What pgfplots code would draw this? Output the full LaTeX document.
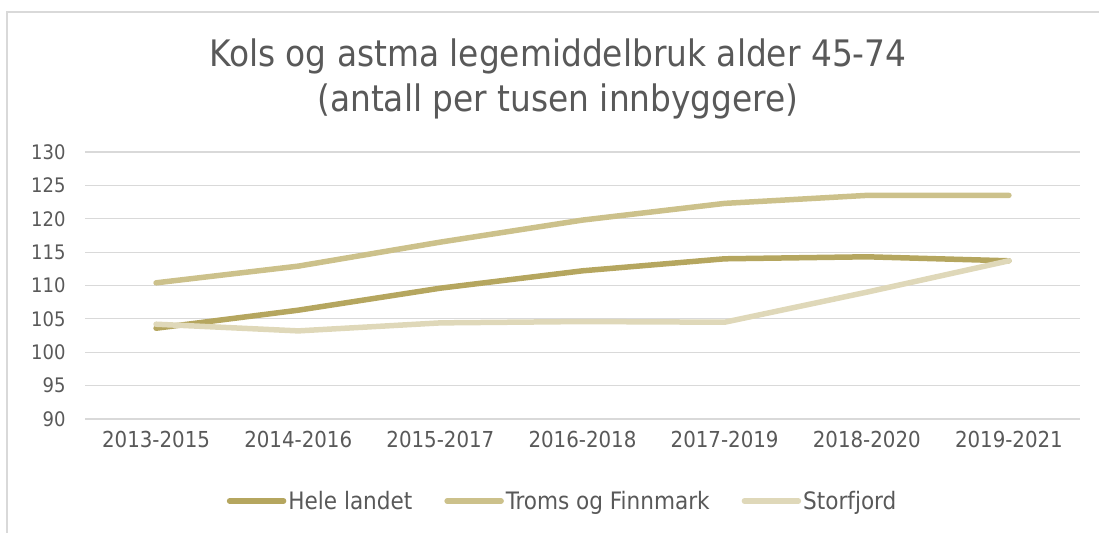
\documentclass[border=0pt]{standalone}
\usepackage{fontspec}
\setmainfont{DejaVu Sans Condensed}
\usepackage{pgfplots}
\pgfplotsset{compat=1.18}
\definecolor{hele}{HTML}{B5A65F}
\definecolor{troms}{HTML}{CCC18B}
\definecolor{storf}{HTML}{DFD8B9}
\definecolor{txt}{HTML}{595959}
\definecolor{grd}{HTML}{D9D9D9}
\begin{document}
\begin{tikzpicture}
\useasboundingbox (0,0) rectangle (1099bp,533bp);
\draw[grd, line width=1.2bp] (7bp,-20bp) -- (7bp,521bp) -- (1120bp,521bp);
\node[txt, font=\fontsize{36.5bp}{45bp}\selectfont, align=center] at (558bp,454bp) {Kols og astma legemiddelbruk alder 45-74\\(antall per tusen innbyggere)};
\begin{axis}[
  at={(85bp,114bp)}, anchor=south west,
  scale only axis, width=995bp, height=267bp,
  xmin=-0.5, xmax=6.5, ymin=90, ymax=130,
  xtick={0,...,6},
  xticklabels={2013-2015,2014-2016,2015-2017,2016-2018,2017-2019,2018-2020,2019-2021},
  ytick={90,95,...,130},
  ymajorgrids, grid style={grd, line width=1.2bp},
  axis line style={draw=none},
  major tick style={draw=none},
  tick label style={txt},
  yticklabel style={font=\fontsize{20bp}{24bp}\selectfont, xshift=-16bp},
  xticklabel style={font=\fontsize{22bp}{26bp}\selectfont, yshift=-9bp},
  /pgf/number format/assume math mode=true,
  legend columns=3,
  legend style={at={(0.48,-0.307)}, anchor=center, draw=none, fill=none,
    font=\fontsize{24bp}{28bp}\selectfont, text=txt,
    /tikz/every even column/.append style={column sep=30bp}},
  legend image code/.code={\draw[#1, line width=5.5bp, line cap=round] (0,0) -- (54bp,0);},
  every axis plot/.append style={line width=5.5bp, line cap=round, line join=round},
]
\addplot[hele] coordinates {(0,103.6) (1,106.3) (2,109.6) (3,112.2) (4,114.0) (5,114.3) (6,113.7)};
\addlegendentry{Hele landet}
\addplot[troms] coordinates {(0,110.4) (1,112.9) (2,116.5) (3,119.8) (4,122.3) (5,123.5) (6,123.5)};
\addlegendentry{Troms og Finnmark}
\addplot[storf] coordinates {(0,104.2) (1,103.2) (2,104.4) (3,104.6) (4,104.5) (5,109.0) (6,113.7)};
\addlegendentry{Storfjord}
\end{axis}
\end{tikzpicture}
\end{document}
